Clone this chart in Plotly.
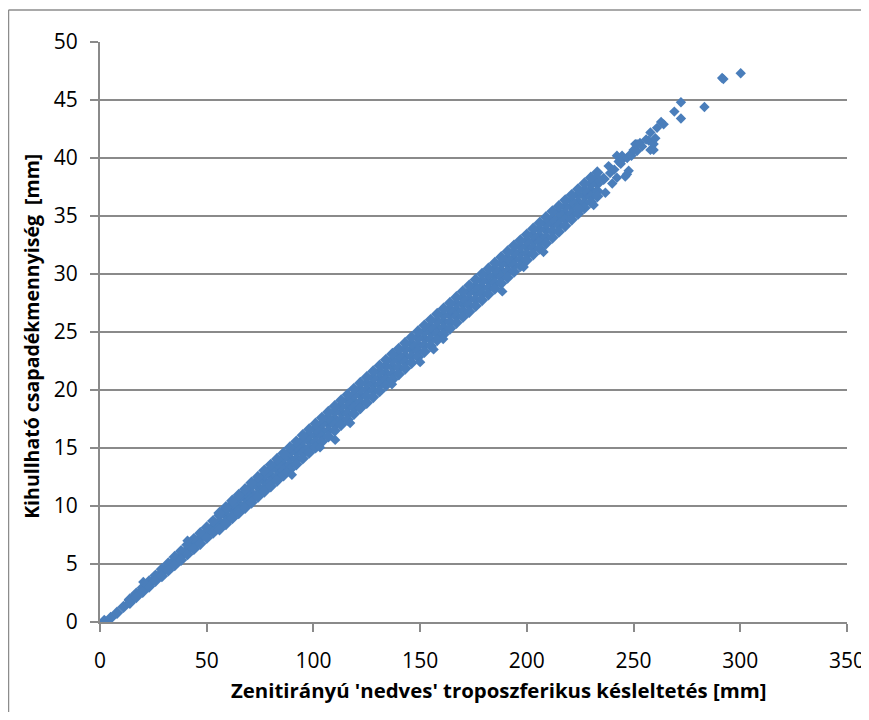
import plotly.graph_objects as go

# ---- data ----
# central strip of the point cloud
xc = [2, 5, 8, 11, 14, 17, 20, 23, 26, 29, 32, 35, 38, 41, 44, 47, 50, 53, 56, 59,
      62, 65, 68, 71, 74, 77, 80, 83, 86, 89, 92, 95, 98, 101, 104, 107, 110, 113, 116, 119,
      122, 125, 128, 131, 134, 137, 140, 143, 146, 149, 152, 155, 158, 161, 164, 167, 170, 173, 176, 179,
      182, 185, 188, 191, 194, 197, 200, 203, 206, 209, 212, 215, 218, 221, 224, 227, 230, 233, 236]
yc = [0.1, 0.35, 0.8, 1.3, 1.85, 2.3, 2.75, 3.3, 3.8, 4.25,
      4.75, 5.3, 5.7, 6.25, 6.7, 7.25, 7.7, 8.2, 8.65, 9.2,
      9.7, 10.15, 10.7, 11.1, 11.65, 12.15, 12.6, 13.15, 13.6, 14.1,
      14.65, 15.05, 15.6, 16.1, 16.5, 17.1, 17.5, 18.05, 18.55, 19.0,
      19.55, 20.0, 20.5, 21.0, 21.45, 22.0, 22.5, 22.9, 23.5, 23.9,
      24.45, 24.95, 25.4, 25.9, 26.45, 26.9, 27.4, 27.85, 28.4, 28.85,
      29.4, 29.85, 30.3, 30.85, 31.3, 31.8, 32.35, 32.8, 33.25, 33.8,
      34.3, 34.75, 35.25, 35.8, 36.2, 36.75, 37.2, 37.75, 38.2]

# inner upper / lower strips
xi = [14, 17, 20, 23, 26, 29, 32, 35, 38, 41,
      44, 47, 50, 53, 56, 59, 62, 65, 68, 71,
      74, 77, 80, 83, 86, 89, 92, 95, 98, 101,
      104, 107, 110, 113, 116, 119, 122, 125, 128, 131,
      134, 137, 140, 143, 146, 149, 152, 155, 158, 161,
      164, 167, 170, 173, 176, 179, 182, 185, 188, 191,
      194, 197, 200, 203, 206, 209, 212, 215, 218, 221,
      224, 227, 230, 233]
yu1 = [1.95, 2.45, 2.95, 3.5, 4.0, 4.55, 5.05, 5.6, 6.1, 6.65,
       7.15, 7.65, 8.15, 8.7, 9.2, 9.7, 10.2, 10.7, 11.2, 11.7,
       12.2, 12.7, 13.15, 13.65, 14.15, 14.65, 15.15, 15.65, 16.1, 16.65,
       17.1, 17.6, 18.1, 18.6, 19.1, 19.55, 20.05, 20.55, 21.05, 21.55,
       22.05, 22.55, 23.0, 23.5, 24.0, 24.5, 25.0, 25.45, 25.95, 26.45,
       26.95, 27.45, 27.95, 28.45, 28.9, 29.4, 29.9, 30.4, 30.9, 31.35,
       31.85, 32.35, 32.85, 33.35, 33.85, 34.35, 34.8, 35.3, 35.8, 36.3,
       36.8, 37.25, 37.75, 38.25]
yl1 = [1.65, 2.15, 2.6, 3.05, 3.55, 3.95, 4.45, 4.9, 5.35, 5.85,
       6.3, 6.75, 7.25, 7.7, 8.2, 8.65, 9.15, 9.6, 10.1, 10.6,
       11.05, 11.55, 12.05, 12.55, 13.05, 13.55, 14.05, 14.55, 15.0, 15.5,
       16.0, 16.5, 17.0, 17.45, 17.95, 18.45, 18.95, 19.45, 19.95, 20.45,
       20.9, 21.4, 21.9, 22.4, 22.9, 23.35, 23.85, 24.35, 24.85, 25.35,
       25.85, 26.35, 26.8, 27.3, 27.8, 28.3, 28.8, 29.25, 29.75, 30.25,
       30.75, 31.25, 31.75, 32.25, 32.75, 33.2, 33.7, 34.2, 34.7, 35.2,
       35.65, 36.15, 36.65, 37.15]

# outer upper / lower strips
xo = [56, 59, 62, 65, 68, 71, 74, 77, 80, 83,
      86, 89, 92, 95, 98, 101, 104, 107, 110, 113,
      116, 119, 122, 125, 128, 131, 134, 137, 140, 143,
      146, 149, 152, 155, 158, 161, 164, 167, 170, 173,
      176, 179, 182, 185, 188, 191, 194, 197, 200, 203,
      206, 209, 212, 215, 218, 221, 224, 227, 230, 233]
yu2 = [9.4, 9.9, 10.45, 10.95, 11.45, 12.0, 12.5, 13.05, 13.55, 14.05,
       14.55, 15.05, 15.55, 16.1, 16.6, 17.1, 17.6, 18.1, 18.6, 19.1,
       19.6, 20.1, 20.6, 21.1, 21.6, 22.1, 22.6, 23.1, 23.55, 24.05,
       24.55, 25.05, 25.55, 26.05, 26.55, 27.0, 27.5, 28.0, 28.5, 29.0,
       29.5, 30.0, 30.45, 30.95, 31.45, 31.95, 32.45, 32.9, 33.4, 33.9,
       34.4, 34.9, 35.4, 35.85, 36.35, 36.8, 37.3, 37.8, 38.3, 38.75]
yl2 = [8.0, 8.45, 8.95, 9.4, 9.85, 10.3, 10.8, 11.25, 11.7, 12.2,
       12.65, 13.15, 13.6, 14.1, 14.6, 15.05, 15.55, 16.0, 16.5, 17.0,
       17.45, 17.95, 18.45, 18.9, 19.4, 19.9, 20.4, 20.9, 21.35, 21.85,
       22.35, 22.85, 23.3, 23.8, 24.3, 24.8, 25.3, 25.8, 26.3, 26.75,
       27.25, 27.75, 28.25, 28.75, 29.2, 29.7, 30.2, 30.7, 31.2, 31.7,
       32.2, 32.65, 33.15, 33.65, 34.15, 34.7, 35.2, 35.7, 36.2, 36.7]

# scattered points and the sparse upper end
xs = [20.3, 41, 87.5, 89.9, 103.1, 110.2, 117.2, 136.8, 150, 156.3,
      160.8, 188.5, 198.5, 207.8, 225, 231.3, 236.8, 238.3, 239, 240,
      241, 242.2, 242.2, 243, 244, 244.6, 245, 246.1, 246.9, 247,
      247.7, 248.4, 249, 250, 250.8, 251.6, 251.6, 253, 254, 255.9,
      257.1, 257.9, 257.9, 259.4, 259.4, 260.2, 261, 262.9, 264.1, 269.1,
      272.2, 272.2, 283.2, 291.5, 292.1, 300.2]
ys = [3.45, 7.0, 12.9, 12.7, 15.05, 15.7, 17.15, 20.5, 22.4, 23.5,
      24.4, 28.5, 30.6, 31.9, 35.6, 35.95, 37.0, 39.3, 38.7, 37.8,
      39.0, 40.2, 38.3, 39.7, 39.5, 40.2, 39.9, 38.4, 38.6, 40.0,
      38.9, 40.3, 40.2, 40.7, 41.2, 40.6, 41.2, 41.3, 41.0, 41.6,
      41.5, 42.2, 40.7, 41.2, 40.7, 41.7, 42.6, 43.1, 42.9, 44.0,
      44.8, 43.4, 44.4, 46.9, 46.8, 47.3]

x_ticks = [0, 50, 100, 150, 200, 250, 300, 350]
y_ticks = [0, 5, 10, 15, 20, 25, 30, 35, 40, 45, 50]

x_title = "Zenitirányú 'nedves' troposzferikus késleltetés [mm]"
y_title = "Kihullható csapadékmennyiség\u00a0\u00a0[mm]"

# ---- figure ----
BLUE = "#4A7EBB"
GRID = "#8A8A8A"
FONT = "Open Sans"

fig = go.Figure()
for xx, yy, sz in [(xc, yc, 9.5), (xi, yu1, 9.5), (xi, yl1, 9.5),
                   (xo, yu2, 9.5), (xo, yl2, 9.5), (xs, ys, 8)]:
    fig.add_trace(go.Scatter(
        x=xx, y=yy, mode="markers",
        marker=dict(symbol="diamond", size=sz, color=BLUE, line=dict(width=0)),
        showlegend=False, hoverinfo="x+y"))

fig.update_layout(
    width=861, height=704,
    margin=dict(l=92, r=22, t=34, b=90, autoexpand=False),
    paper_bgcolor="white", plot_bgcolor="white",
    font=dict(family=FONT, color="#000000", size=21),
    shapes=[
        dict(type="line", xref="paper", yref="paper", x0=-0.1225, x1=-0.1225, y0=-0.3, y1=1.0552,
             line=dict(color="#8C8C8C", width=1.5)),
        dict(type="line", xref="paper", yref="paper", x0=-0.1225, x1=1.2, y0=1.0552, y1=1.0552,
             line=dict(color="#8C8C8C", width=1.5)),
    ],
    annotations=[
        dict(text=x_title, xref="paper", yref="paper", x=0.5335, y=-0.1178,
             xanchor="center", yanchor="middle", showarrow=False,
             font=dict(family=FONT, size=20.4, color="#000", weight="bold")),
        dict(text=y_title, xref="paper", yref="paper", x=-0.091, y=0.4917,
             xanchor="center", yanchor="middle", showarrow=False, textangle=-90,
             font=dict(family=FONT, size=19.5, color="#000", weight="bold")),
    ],
)
fig.update_xaxes(
    range=[0, 350], tickvals=x_ticks, showgrid=False, zeroline=False, automargin=False,
    showline=True, linecolor=GRID, linewidth=2,
    ticks="outside", ticklen=8, tickwidth=2, tickcolor=GRID,
    tickfont=dict(family=FONT, size=21, color="#000"),
    ticklabelstandoff=11, ticklabeloverflow="allow",
)
fig.update_yaxes(
    range=[0, 50], tickvals=y_ticks, showgrid=True, gridcolor=GRID, gridwidth=2,
    zeroline=False, showline=True, linecolor=GRID, linewidth=2, automargin=False,
    ticks="outside", ticklen=8, tickwidth=2, tickcolor=GRID,
    tickfont=dict(family=FONT, size=21, color="#000"),
    ticklabelstandoff=8,
)

fig.write_html("out.html")
